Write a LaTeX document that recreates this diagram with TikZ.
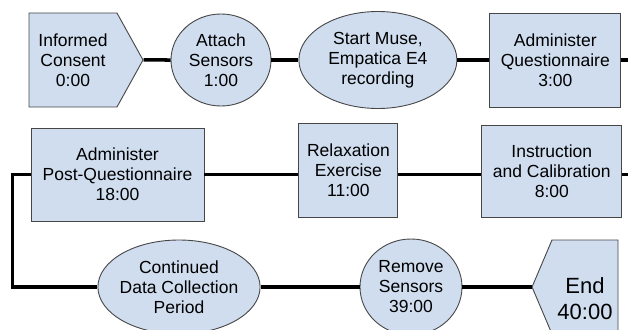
\documentclass[tikz,border=0pt]{standalone}
\usepackage{fontspec}
\setmainfont{Liberation Sans}
\usetikzlibrary{positioning,shapes.geometric,shapes.symbols}
\definecolor{stagefill}{RGB}{207,221,239}
\definecolor{stageedge}{RGB}{70,70,70}

\begin{document}
\begin{tikzpicture}[
        x=1pt, y=-1pt,
        font=\fontsize{17.5}{20}\selectfont,
        stage/.style={draw=stageedge, fill=stagefill, line width=0.9pt, align=center},
        box/.style={stage, rectangle, inner sep=2pt},
        oval/.style={stage, ellipse, inner sep=0pt},
        flagright/.style={stage, signal, signal to=east, signal pointer angle=122, inner sep=2pt},
        flagleft/.style={stage, signal, signal to=west, signal pointer angle=134, inner sep=2pt},
        link/.style={line width=3.5pt}
    ]
        \useasboundingbox (0,0) rectangle (628,329);
        \clip (0,0) rectangle (628,329);

        \node[flagright, minimum width=114pt, minimum height=94pt] (consent) at (73,60) {Informed\\Consent\\0:00};
        \node[oval, minimum width=100pt, minimum height=92pt, right=27pt of consent] (attach) {Attach\\Sensors\\1:00};
        \node[oval, minimum width=158pt, minimum height=97pt, right=27pt of attach] (muse) {Start Muse,\\Empatica E4\\recording};
        \node[box, minimum width=131pt, minimum height=94pt, right=32pt of muse] (quest) {Administer\\Questionnaire\\3:00};

        \node[box, minimum width=173pt, minimum height=93pt] (post) at (117.5,174.5) {Administer\\Post-Questionnaire\\18:00};
        \node[box, minimum width=99pt, minimum height=94pt, right=94pt of post, yshift=4.5pt] (relax) {Relaxation\\Exercise\\11:00};
        \node[box, minimum width=140pt, minimum height=92pt, right=83pt of relax, yshift=-1pt] (instr) {Instruction\\and Calibration\\8:00};

        \node[oval, minimum width=158pt, minimum height=94pt, inner xsep=-2pt] (collect) at (179,287) {Continued\\Data Collection\\Period};
        \node[oval, minimum width=102pt, minimum height=96pt, right=99pt of collect] (remove) {Remove\\Sensors\\39:00};
        \node[flagleft, minimum width=86pt, minimum height=94pt] (finish) at (585,287)
            {\fontsize{22}{26}\selectfont\raisebox{-19pt}[0pt][0pt]{\begin{tabular}{@{}c@{}}End\\40:00\end{tabular}}};

        \coordinate (out1) at (628,60);
        \coordinate (out2) at (628,174.5);

        \draw[link] (consent) -- (attach);
        \draw[link] (attach) -- (muse);
        \draw[link] (muse) -- (quest);
        \draw[link] (quest) -- (out1);

        \draw[link] (post) -- (post -| relax.west);
        \draw[link] (post -| relax.east) -- (post -| instr.west);
        \draw[link] (post -| instr.east) -- (out2);

        \draw[link] (post.west) -- ++(-18,0) |- (collect.west);
        \draw[link] (collect) -- (remove);
        \draw[link] (remove) -- (finish);
    \end{tikzpicture}
\end{document}
